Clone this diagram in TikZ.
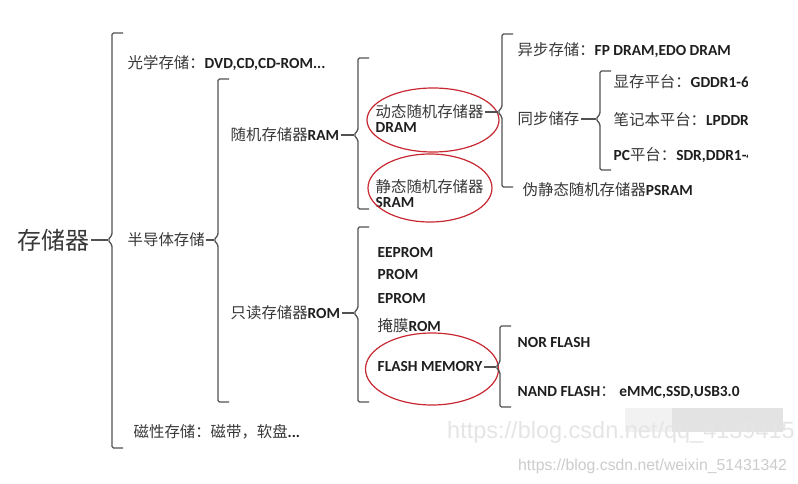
\documentclass[tikz,border=0pt]{standalone}
\usepackage{fontspec}
\setmainfont{Carlito}
\newfontfamily\zhfont{Noto Sans CJK SC}
\newfontfamily\wmfont{Liberation Sans}
\usetikzlibrary{shapes.geometric}

\definecolor{ringred}{RGB}{200,40,50}
\newcommand{\zh}[1]{{\zhfont\mdseries\color{black!78}#1}}
% bracket: name, x, top, mid, bottom
\newcommand{\bracketat}[5]{%
  \draw[brk] (#2+11,#3) -- (#2,#3) -- (#2,#4-5) -- (#2-4,#4) -- (#2,#4+5) -- (#2,#5) -- (#2+11,#5);
  \coordinate (#1) at (#2-4,#4);
}

\tikzset{
  item/.style={anchor=west, inner xsep=1.5pt, inner ysep=0pt, text=black!88,
    font=\fontsize{15.4}{18}\selectfont\bfseries},
  brk/.style={draw=black!68, line width=1.3pt, rounded corners=1.5pt},
  link/.style={draw=black!68, line width=1.3pt},
  ring/.style={ellipse, draw=ringred, line width=1.2pt, inner sep=0pt},
  wmark/.style={anchor=west, inner sep=0pt},
}

\begin{document}
\begin{tikzpicture}[x=1pt, y=-1pt]
\path[use as bounding box, fill=white] (0,0) rectangle (798,484);

% root
\node[item, font=\fontsize{24}{28}\selectfont] (mem) at (16,240) {\zh{存储器}};
\bracketat{mem-b}{112}{33}{240}{448}
\draw[link] (mem.east) -- (mem-b);

\node[item] (opt)  at (126,63)  {\zh{光学存储：}DVD,CD,CD-ROM...};
\node[item] (semi) at (126,240) {\zh{半导体存储}};
\node[item] (mag)  at (132,432) {\zh{磁性存储：磁带，软盘}...};

% semiconductor
\bracketat{semi-b}{218}{79}{240}{402}
\draw[link] (semi.east) -- (semi-b);
\node[item] (ram) at (229,135) {\zh{随机存储器}RAM};
\node[item] (rom) at (229,313) {\zh{只读存储器}ROM};

% RAM
\bracketat{ram-b}{358}{58}{135}{209}
\draw[link] (ram.east) -- (ram-b);
\node[item] (dram)   at (374,112) {\zh{动态随机存储器}};
\node[item] (dram-l) at (374,128) {DRAM};
\node[item] (sram)   at (374,187) {\zh{静态随机存储器}};
\node[item] (sram-l) at (374,203) {SRAM};
\node[ring, minimum width=132pt, minimum height=64pt] (dram-o) at (433,120) {};
\node[ring, minimum width=124pt, minimum height=68pt] (sram-o) at (430,188) {};

% DRAM
\bracketat{dram-b}{502}{34}{112}{187}
\draw[link] (dram.east) -- (dram-b);
\node[item] (async) at (516,50)  {\zh{异步存储：}FP DRAM,EDO DRAM};
\node[item] (sync)  at (516,119) {\zh{同步储存}};
\node[item] (psram) at (521,190) {\zh{伪静态随机存储器}PSRAM};

% sync
\bracketat{sync-b}{600}{71}{119}{170}
\draw[link] (sync.east) -- (sync-b);
\begin{scope}
\clip (0,0) rectangle (747,484);
\node[item] (gddr)  at (612,82)  {\zh{显存平台：}GDDR1-6};
\node[item] (lpddr) at (612,120) {\zh{笔记本平台：}LPDDR};
\node[item] (pc)    at (612,155) {PC\zh{平台：}SDR,DDR1-4};
\end{scope}

% ROM
\bracketat{rom-b}{358}{227}{313}{402}
\draw[link] (rom.east) -- (rom-b);
\node[item] (eeprom) at (376,253) {EEPROM};
\node[item] (prom)   at (376,275) {PROM};
\node[item] (eprom)  at (376,299) {EPROM};
\node[item] (mrom)   at (376,326) {\zh{掩膜}ROM};
\node[item] (flash)  at (376,367) {FLASH MEMORY};
\node[ring, minimum width=133pt, minimum height=72pt] (flash-o) at (432,369) {};

% flash
\bracketat{flash-b}{500}{326}{367}{407}
\draw[link] (flash.east) -- (flash-b);
\node[item] (nor)  at (516,343) {NOR FLASH};
\node[item] (nand) at (516,392) {NAND FLASH\zh{：}\ eMMC,SSD,USB3.0};

% watermarks
\fill[black!5]  (625,408) rectangle (672,432);
\fill[black!11] (672,408) rectangle (783,432);
\node[wmark, text=black!10, font=\wmfont\fontsize{23.5}{26}\selectfont] (wm-a) at (447,432) {https://blog.csdn.net/qq\_4139415};
\node[wmark, text=black!20, font=\wmfont\fontsize{15.8}{18}\selectfont] (wm-b) at (518,466) {https://blog.csdn.net/weixin\_51431342};
\end{tikzpicture}
\end{document}
